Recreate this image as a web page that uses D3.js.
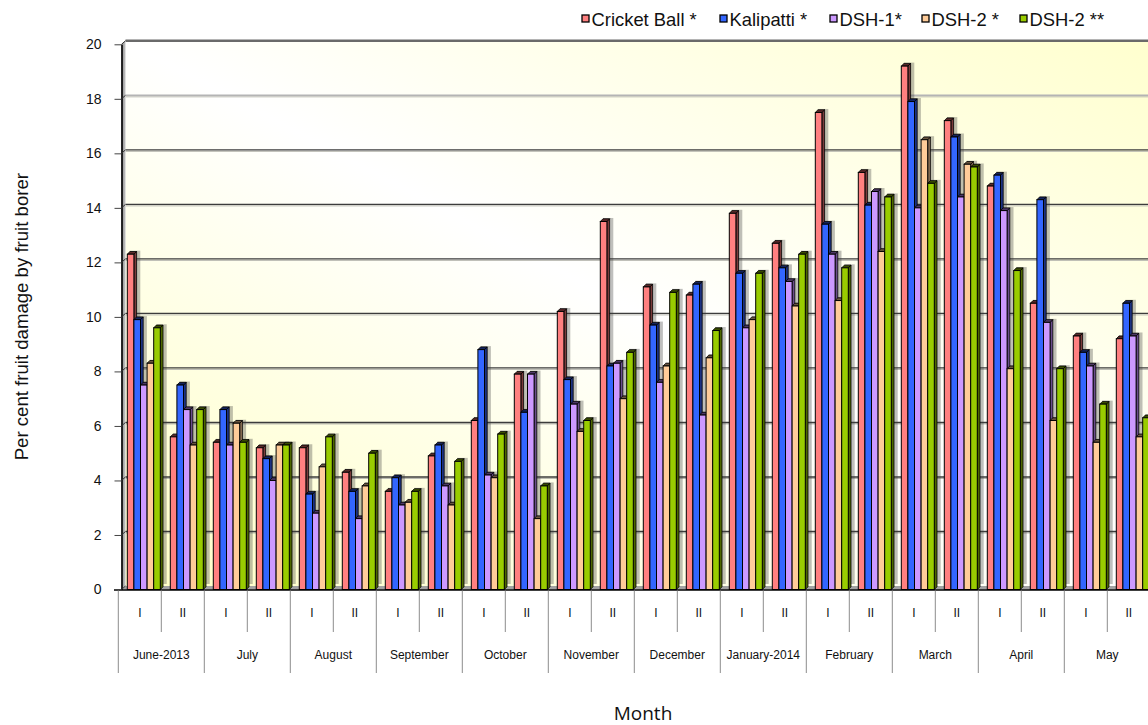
<!DOCTYPE html>
<html><head><meta charset="utf-8">
<script src="https://cdn.jsdelivr.net/npm/d3@7/dist/d3.min.js"></script>
<style>html,body{margin:0;padding:0;background:#fff;} svg{display:block;}</style>
</head><body><svg id="chart" width="1148" height="725"></svg>
<script>
// ---------- data ----------
const months = ["June-2013","July","August","September","October","November","December","January-2014","February","March","April","May"];
const halves = ["I","II"];
const seriesNames = ["Cricket Ball *","Kalipatti *","DSH-1*","DSH-2 *","DSH-2 **"];
const cricketBall = [12.3,5.6,5.4,5.2,5.2,4.3,3.6,4.9,6.2,7.9,10.2,13.5,11.1,10.8,13.8,12.7,17.5,15.3,19.2,17.2,14.8,10.5,9.3,9.2];
const kalipatti   = [9.9,7.5,6.6,4.8,3.5,3.6,4.1,5.3,8.8,6.5,7.7,8.2,9.7,11.2,11.6,11.8,13.4,14.1,17.9,16.6,15.2,14.3,8.7,10.5];
const dsh1        = [7.5,6.6,5.3,4.0,2.8,2.6,3.1,3.8,4.2,7.9,6.8,8.3,7.6,6.4,9.6,11.3,12.3,14.6,14.0,14.4,13.9,9.8,8.2,9.3];
const dsh2a       = [8.3,5.3,6.1,5.3,4.5,3.8,3.2,3.1,4.1,2.6,5.8,7.0,8.2,8.5,9.9,10.4,10.6,12.4,16.5,15.6,8.1,6.2,5.4,5.6];
const dsh2b       = [9.6,6.6,5.4,5.3,5.6,5.0,3.6,4.7,5.7,3.8,6.2,8.7,10.9,9.5,11.6,12.3,11.8,14.4,14.9,15.5,11.7,8.1,6.8,6.3];
const yTickValues = [0,2,4,6,8,10,12,14,16,18,20];
const yTitle = "Per cent fruit damage by fruit borer";
const xTitle = "Month";

// ---------- styles ----------
const frontColors = ["#FF8080","#3366FF","#CC99FF","#FFCC99","#99CC00"];
const sideColors  = ["#7a3b3b","#1c3282","#6a4c8c","#8f7358","#4d6600"];
const topColors   = ["#5a2a2a","#14245e","#4d3766","#6b5640","#394d00"];
const FONT = "'Liberation Sans', Arial, Helvetica, sans-serif";

const seriesValues = [cricketBall, kalipatti, dsh1, dsh2a, dsh2b];
const categories = months.flatMap(m => halves.map(h => m + "|" + h));

const svg = d3.select("#chart");
const defs = svg.append("defs");

// scales
const plotLeft = 118.3, band = 43;
const x0 = d3.scaleBand().domain(categories).range([plotLeft, plotLeft + band * categories.length]).paddingInner(0).paddingOuter(0);
const x1 = d3.scaleBand().domain(seriesNames).range([9, 42]).padding(0);
const y = d3.scaleLinear().domain([0, 20]).range([589.5, 44.3]);

const WX = 4, WY = 3.5;      // wall depth
const D = 2.7;               // bar depth
const axisX = 121.5;
const rightEnd = plotLeft + band * categories.length + 4;

// gradient for back wall
const g1 = defs.append("linearGradient").attr("id","wallGrad")
  .attr("x1","0").attr("y1","1").attr("x2","1").attr("y2","0");
g1.append("stop").attr("offset","0").attr("stop-color","#FFFFC6");
g1.append("stop").attr("offset","0.5").attr("stop-color","#FFFFFF");
g1.append("stop").attr("offset","1").attr("stop-color","#FFFFCE");
const g2 = defs.append("linearGradient").attr("id","sideWall")
  .attr("x1","0").attr("y1","0").attr("x2","1").attr("y2","0");
g2.append("stop").attr("offset","0").attr("stop-color","#8a8a8a");
g2.append("stop").attr("offset","1").attr("stop-color","#c4c4c4");

// back wall
svg.append("rect")
  .attr("x", axisX + WX).attr("y", y(20) - WY)
  .attr("width", rightEnd - axisX - WX).attr("height", y(0) - y(20))
  .attr("fill","url(#wallGrad)");

// gridlines
const grid = svg.append("g");
yTickValues.filter(v => v > 0 && v < 20).forEach(v => {
  const gy = y(v) - WY;
  grid.append("line").attr("x1", axisX + WX).attr("x2", rightEnd)
    .attr("y1", gy + 1.5).attr("y2", gy + 1.5)
    .attr("stroke","#b8b8b0").attr("stroke-width",1);
  grid.append("line").attr("x1", axisX + WX).attr("x2", rightEnd)
    .attr("y1", gy).attr("y2", gy)
    .attr("stroke", v === 18 ? "#b4b4b4" : "#3c3c3c").attr("stroke-width",1.4);
});

// top border of wall
svg.append("line").attr("x1", axisX + WX).attr("x2", rightEnd)
  .attr("y1", y(20) - WY).attr("y2", y(20) - WY)
  .attr("stroke","#6a6a6a").attr("stroke-width",2.4);

// left side wall
svg.append("polygon")
  .attr("points", [[axisX, y(20)], [axisX + WX, y(20) - WY], [axisX + WX, y(0) - WY], [axisX, y(0)]].map(p => p.join(",")).join(" "))
  .attr("fill","url(#sideWall)");

// floor
svg.append("polygon")
  .attr("points", [[axisX, y(0)], [axisX + WX, y(0) - WY], [rightEnd, y(0) - WY], [rightEnd - WX, y(0)]].map(p => p.join(",")).join(" "))
  .attr("fill","#a2a2a2");

// bars
const data = categories.map((c, ci) => ({
  cat: c,
  vals: seriesNames.map((s, si) => ({ s, si, v: seriesValues[si][ci] }))
}));

const shadowG = svg.append("g");
const barG = svg.append("g");

data.forEach(d => {
  d.vals.forEach(b => {
    const xL = x0(d.cat) + x1(b.s);
    const w = x1.bandwidth();
    const yT = y(b.v), yB = y(0);
    shadowG.append("rect")
      .attr("x", xL + 2.5).attr("y", yT - D - 0.8)
      .attr("width", w + D + 1.2).attr("height", yB - yT - 2)
      .attr("fill","rgba(60,60,60,0.33)");
  });
});

data.forEach(d => {
  const gg = barG.append("g");
  d.vals.forEach(b => {
    const xL = x0(d.cat) + x1(b.s);
    const w = x1.bandwidth();
    const yT = y(b.v), yB = y(0);
    // side
    gg.append("polygon")
      .attr("points", [[xL + w, yT], [xL + w + D, yT - D], [xL + w + D, yB - D], [xL + w, yB]].map(p => p.join(",")).join(" "))
      .attr("fill", sideColors[b.si]).attr("stroke","#000").attr("stroke-width",0.8).attr("stroke-linejoin","round");
    // top
    gg.append("polygon")
      .attr("points", [[xL, yT], [xL + D, yT - D], [xL + w + D, yT - D], [xL + w, yT]].map(p => p.join(",")).join(" "))
      .attr("fill", topColors[b.si]).attr("stroke","#000").attr("stroke-width",0.8).attr("stroke-linejoin","round");
    // front
    gg.append("rect")
      .attr("x", xL).attr("y", yT).attr("width", w).attr("height", yB - yT)
      .attr("fill", frontColors[b.si]).attr("stroke","#000").attr("stroke-width",1);
  });
});

// x axis front line
svg.append("line").attr("x1", 114).attr("x2", 1148).attr("y1", y(0) + 0.5).attr("y2", y(0) + 0.5)
  .attr("stroke","#000").attr("stroke-width",1.6);

// y axis
const yAxis = d3.axisLeft(y).tickValues(yTickValues).tickSize(7).tickSizeOuter(0).tickPadding(13);
const ya = svg.append("g").attr("transform", `translate(${axisX},0)`).call(yAxis);
ya.select(".domain").attr("stroke","#000").attr("stroke-width",1.6);
ya.selectAll(".tick line").attr("stroke","#444").attr("stroke-width",1);
ya.selectAll(".tick text").attr("font-family", FONT).attr("font-size", 14).attr("fill","#111");
yTickValues.forEach(v => {
  svg.append("line").attr("x1", axisX).attr("y1", y(v)).attr("x2", axisX + WX).attr("y2", y(v) - WY)
    .attr("stroke","#333").attr("stroke-width",1);
});

// x category labels (two levels)
const xl = svg.append("g");
categories.forEach((c, i) => {
  const [m, h] = c.split("|");
  const xs = x0(c);
  const isMonthStart = h === "I";
  xl.append("line").attr("x1", xs).attr("x2", xs).attr("y1", y(0) + 1)
    .attr("y2", isMonthStart ? 673 : 632).attr("stroke","#8c8c8c").attr("stroke-width",1);
  xl.append("text").attr("x", xs + x0.bandwidth() / 2).attr("y", 617)
    .attr("text-anchor","middle").attr("font-family", FONT).attr("font-size", 12).attr("fill","#111").text(h);
});
months.forEach((m, mi) => {
  const xs = x0(m + "|I");
  xl.append("text").attr("x", xs + x0.bandwidth()).attr("y", 659)
    .attr("text-anchor","middle").attr("font-family", FONT).attr("font-size", 12).attr("fill","#111").text(m);
});
xl.append("line").attr("x1", 1150.3).attr("x2", 1150.3).attr("y1", y(0) + 1).attr("y2", 673).attr("stroke","#8c8c8c");

// titles
svg.append("text").attr("transform", "translate(28,316.7) rotate(-90)")
  .attr("text-anchor","middle").attr("font-family", FONT).attr("font-size", 18.6).attr("fill","#111").text(yTitle);
svg.append("text").attr("x", 643).attr("y", 720).attr("text-anchor","middle")
  .attr("font-family","'Open Sans', 'Noto Sans', sans-serif").attr("font-size", 19).attr("fill","#111").text(xTitle);

// legend
const legendX = [582, 720, 830, 922, 1020];
const lg = svg.append("g");
seriesNames.forEach((s, i) => {
  lg.append("rect").attr("x", legendX[i]).attr("y", 15).attr("width", 7).attr("height", 7)
    .attr("fill", frontColors[i]).attr("stroke","#000").attr("stroke-width",1.3);
  lg.append("text").attr("x", legendX[i] + 9.5).attr("y", 25.5)
    .attr("font-family", FONT).attr("font-size", 18.4).attr("fill","#111").text(s);
});
</script>
</body></html>
